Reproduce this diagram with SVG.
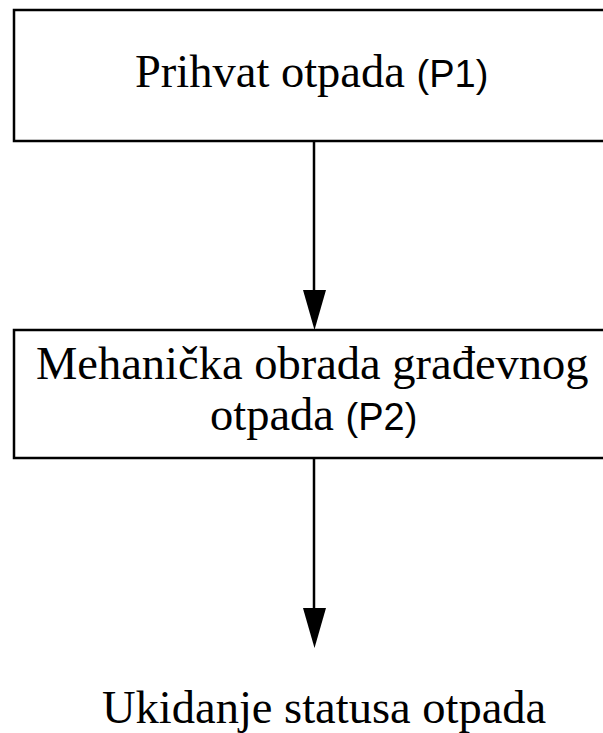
<svg xmlns="http://www.w3.org/2000/svg" width="603" height="733" viewBox="0 0 603 733">
<style>
.box{fill:#fff;stroke:#000;stroke-width:2.5}
.serif{font-family:"Liberation Serif","Times New Roman",serif;font-size:46.5px;fill:#000}
.sans{font-family:"Liberation Sans",Arial,sans-serif;font-size:38px}
.edge{stroke:#000;stroke-width:2.5;fill:none}
.head{fill:#000}
</style>
<rect width="603" height="733" fill="#fff"/>
<g id="connectors">
<line class="edge" x1="314" y1="141" x2="314" y2="292"/>
<polygon class="head" points="303,290 326,290 314.5,330"/>
<line class="edge" x1="314" y1="458" x2="314" y2="610"/>
<polygon class="head" points="303,608 326,608 314.5,648"/>
</g>
<g id="p1">
<rect class="box" x="14" y="10" width="602" height="131"/>
<text class="serif" x="135" y="87">Prihvat otpada <tspan class="sans">(P1)</tspan></text>
</g>
<g id="p2">
<rect class="box" x="14" y="330" width="602" height="128"/>
<text class="serif" x="36" y="379">Mehanička obrada građevnog</text>
<text class="serif" x="210" y="430">otpada <tspan class="sans">(P2)</tspan></text>
</g>
<g id="end">
<text class="serif" x="102" y="723">Ukidanje statusa otpada</text>
</g>
</svg>
